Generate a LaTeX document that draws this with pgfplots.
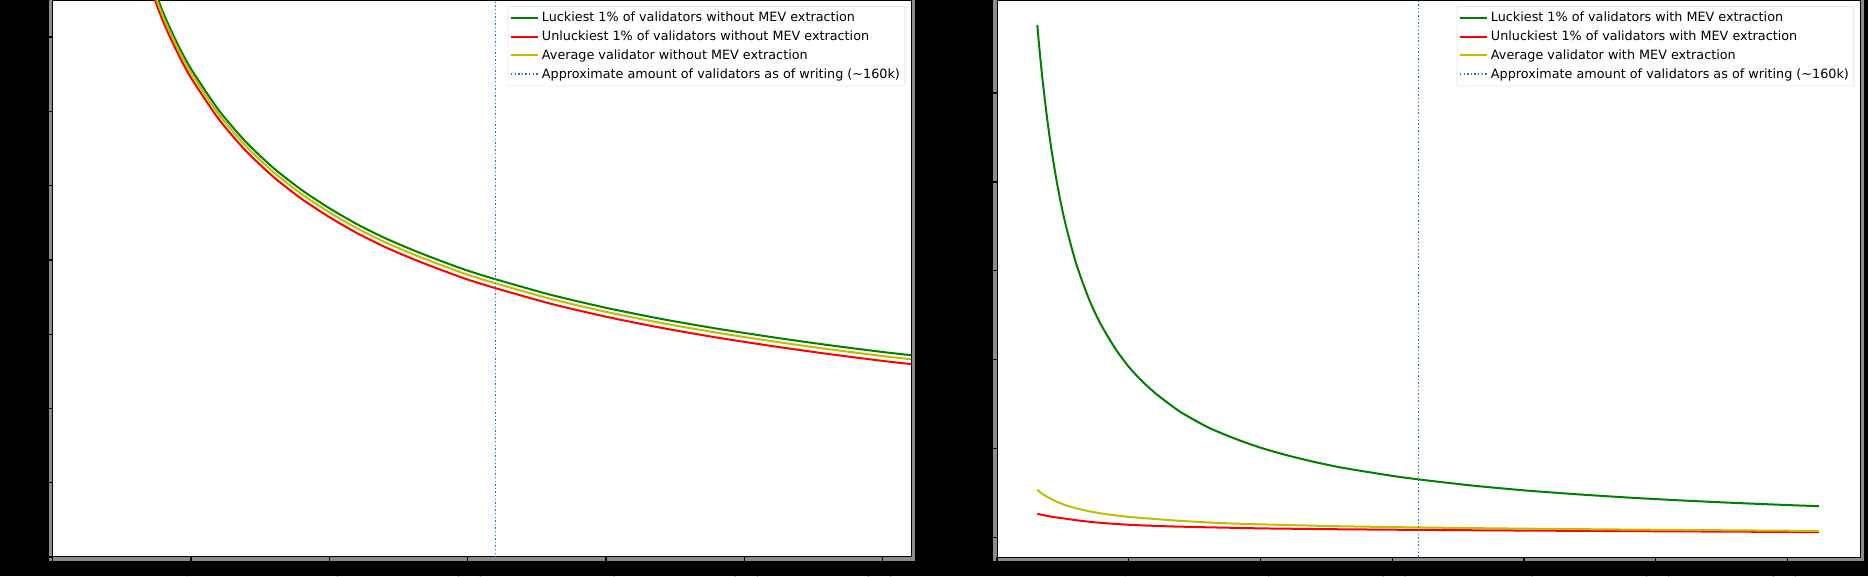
\documentclass[border=0pt]{standalone}
\usepackage{fontspec}
\setmainfont{DejaVu Sans}
\usepackage{pgfplots}
\pgfplotsset{compat=1.18}
\usepackage{pgfplotstable}

\definecolor{mplgreen}{rgb}{0,0.5,0}
\definecolor{mplred}{rgb}{1,0,0}
\definecolor{mplyellow}{rgb}{0.75,0.75,0}
\definecolor{mplblue}{HTML}{1F77B4}
\definecolor{band}{gray}{0.55}
\definecolor{legedge}{gray}{0.8}

\newlength\pxu
\setlength\pxu{0.3mm}

\pgfplotstableread{
N green red avg
15300 23.38 23.14 23.27
17000 22.21 21.97 22.10
19000 21.04 20.80 20.93
21000 20.04 19.80 19.93
23000 19.17 18.93 19.06
26000 18.06 17.82 17.95
30000 16.84 16.60 16.73
35000 15.63 15.39 15.52
40000 14.64 14.40 14.53
45000 13.83 13.59 13.72
50000 13.14 12.90 13.03
60000 12.03 11.79 11.92
70000 11.16 10.92 11.05
80000 10.46 10.22 10.35
90000 9.88 9.64 9.77
100000 9.39 9.15 9.28
110000 8.96 8.72 8.85
120000 8.59 8.35 8.48
130000 8.27 8.03 8.16
140000 7.98 7.74 7.87
150000 7.71 7.47 7.60
160000 7.48 7.24 7.37
180000 7.06 6.82 6.95
200000 6.71 6.47 6.60
220000 6.41 6.17 6.30
240000 6.15 5.91 6.04
260000 5.92 5.68 5.81
280000 5.71 5.47 5.60
300000 5.52 5.28 5.41
312000 5.42 5.18 5.31
}\leftdata

\pgfplotstableread{
N green red avg
15300 1153 53.3 107.2
16000 1106 52.3 104.0
17000 1046 50.9 99.0
18000 993 49.7 95.1
19000 944 48.5 91.5
20000 900 47.4 88.1
21000 860 46.4 85.0
22000 824 45.5 82.2
23000 790 44.6 79.5
24500 745 43.4 76.0
26000 705 42.3 72.7
28000 659 40.5 69.0
30000 617 38.8 65.7
32500 574 37.0 62.2
35000 535 35.3 58.9
37500 502 33.8 56.1
40000 473 32.5 53.6
45000 424 30.4 49.7
50000 384 28.6 46.3
55000 352 27.2 43.7
60000 325 26.0 41.5
65000 302 25.0 39.2
70000 281 24.2 37.2
80000 248 22.8 33.8
90000 223 21.6 31.2
100000 202 20.4 29.5
110000 185 19.7 28.0
120000 170.5 19.0 26.5
130000 158 18.4 25.2
140000 148 17.9 24.2
150000 138.6 17.4 23.3
160000 130.6 17.0 22.5
180000 117 16.2 21.0
200000 106 15.5 19.8
220000 97.2 14.8 18.7
240000 89.6 14.2 17.7
260000 83.2 13.6 16.8
280000 77.7 13.0 16.0
300000 72.9 12.4 15.1
312000 70.3 12.0 14.6
}\rightdata

\pgfplotsset{
  panel/.style={
    scale only axis, anchor=south west,
    axis background/.style={fill=white},
    axis line style={black, line width=1\pxu},
    tick align=outside, tick pos=left,
    major tick length=5\pxu,
    major tick style={black, line width=1.3\pxu},
    ticklabel style={font=\fontsize{10.9}{13}\selectfont, text=black},
    scaled ticks=false,
    xtick={0,50000,...,300000},
    legend cell align=left,
    legend style={at={(1,1)}, anchor=north east, xshift=-6\pxu, yshift=-5\pxu,
      draw=legedge, line width=0.3\pxu, fill=white, fill opacity=0.8, text opacity=1,
      rounded corners=2\pxu, font=\fontsize{10.9}{13}\selectfont,
      inner xsep=2\pxu, inner ysep=2.5\pxu,
      nodes={inner ysep=3.1pt, inner xsep=3\pxu}},
    legend image code/.code={\draw[##1] (0pt,0pt) -- (27\pxu,0pt);},
    every axis plot/.append style={line width=2\pxu, smooth, tension=0.4},
  },
  vline/.style={mplblue, line width=1.4\pxu, dash pattern=on 1.4\pxu off 2.2\pxu},
}

\begin{document}
\begin{tikzpicture}
\path[fill=black, use as bounding box] (0,0) rectangle (560.4mm,172.8mm);
\draw[band, line width=4\pxu] (15.24mm,5.1mm) rectangle (273.9mm,173.1mm);
\draw[band, line width=4\pxu] (298.5mm,5.1mm) rectangle (558.6mm,173.1mm);

\begin{axis}[panel, at={(15.84mm,5.7mm)}, width=257.46mm, height=166.8mm,
  xmin=0, xmax=310300, ymin=0, ymax=14.97, ytick={0,2,...,14}]
\addplot[mplgreen] table[x=N, y=green] {\leftdata};
\addlegendentry{Luckiest 1\% of validators without MEV extraction}
\addplot[mplred] table[x=N, y=red] {\leftdata};
\addlegendentry{Unluckiest 1\% of validators without MEV extraction}
\addplot[mplyellow] table[x=N, y=avg] {\leftdata};
\addlegendentry{Average validator without MEV extraction}
\addplot[vline, sharp plot] coordinates {(160000,-10) (160000,30)};
\addlegendentry{Approximate amount of validators as of writing (\textasciitilde160k)}
\end{axis}

\begin{axis}[panel, at={(299.1mm,5.7mm)}, width=258.9mm, height=166.8mm,
  xmin=0, xmax=327600, ymin=-44, ymax=1207, ytick={0,200,...,1000}]
\addplot[mplgreen] table[x=N, y=green] {\rightdata};
\addlegendentry{Luckiest 1\% of validators with MEV extraction}
\addplot[mplred] table[x=N, y=red] {\rightdata};
\addlegendentry{Unluckiest 1\% of validators with MEV extraction}
\addplot[mplyellow] table[x=N, y=avg] {\rightdata};
\addlegendentry{Average validator with MEV extraction}
\addplot[vline, sharp plot] coordinates {(160000,-100) (160000,1300)};
\addlegendentry{Approximate amount of validators as of writing (\textasciitilde160k)}
\end{axis}
\end{tikzpicture}
\end{document}
